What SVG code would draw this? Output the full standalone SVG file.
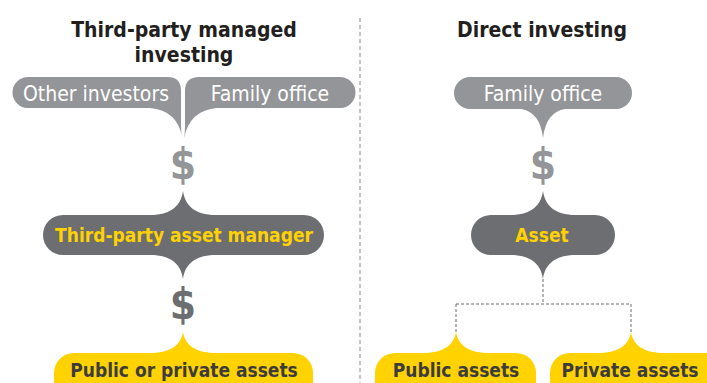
<svg xmlns="http://www.w3.org/2000/svg" width="707" height="383" viewBox="0 0 707 383">
<style>
.title{font-family:"DejaVu Sans Condensed","DejaVu Sans",sans-serif;font-weight:bold;font-size:21px;fill:#231f20;text-anchor:middle}
.lt{fill:#939598}
.dk{fill:#6d6e71}
.yl{fill:#ffd200}
.wt{font-family:"DejaVu Sans Condensed","DejaVu Sans",sans-serif;font-size:21px;fill:#ffffff;text-anchor:middle}
.yt{font-family:"DejaVu Sans Condensed","DejaVu Sans",sans-serif;font-weight:bold;font-size:19px;fill:#ffd200;text-anchor:middle}
.bt{font-family:"DejaVu Sans Condensed","DejaVu Sans",sans-serif;font-weight:bold;font-size:19px;fill:#3c3c3e;text-anchor:middle}
.dol{font-family:"DejaVu Sans Condensed","DejaVu Sans",sans-serif;font-weight:bold;font-size:42px;text-anchor:middle}
.dash{fill:none;stroke:#6d6e71;stroke-width:1;stroke-dasharray:3 2}
</style>
<rect width="707" height="383" fill="#ffffff"/>
<g id="titles">
<text class="title" x="184" y="37">Third-party managed</text>
<text class="title" x="184" y="62">investing</text>
<text class="title" x="542" y="37">Direct investing</text>
</g>
<g id="connectors">
<line x1="360" y1="18" x2="360" y2="383" stroke="#8a8a8c" stroke-width="1" stroke-dasharray="4 3"/>
<path class="dash" d="M543 279 V304 M456 304 H631 M456 304 V333 M631 304 V333"/>
</g>
<g id="other-investors">
<path class="lt" d="M28 77 H168 Q181 77 181 91 V126 Q181 133 182.5 138 Q177 110 150 108 H28 A15.5 15.5 0 0 1 28 77 Z"/>
<text class="wt" x="96" y="101">Other investors</text>
</g>
<g id="family-office-left">
<path class="lt" d="M185 91 Q185 77 199 77 H340 A15.5 15.5 0 0 1 340 108 H217 Q190 110 184 138 Q185 133 185 126 Z"/>
<text class="wt" x="270" y="101">Family office</text>
</g>
<g id="dollar-left-1"><text class="dol lt" x="183" y="179">$</text></g>
<g id="asset-manager">
<path class="dk" d="M63 215 H150 C172 215 181 205 183 191 C185 205 194 215 216 215 H304 A20 20 0 0 1 304 255 H216 C194 255 185 265 183 279 C181 265 172 255 150 255 H63 A20 20 0 0 1 63 215 Z"/>
<text class="yt" x="184" y="242">Third-party asset manager</text>
</g>
<g id="dollar-left-2"><text class="dol dk" x="183" y="319">$</text></g>
<g id="public-private">
<path class="yl" d="M74 353 H150 C172 353 181 344 183 332 C185 344 194 353 216 353 H293 A20 20 0 0 1 313 373 V393 H54 V373 A20 20 0 0 1 74 353 Z"/>
<text class="bt" x="184" y="377">Public or private assets</text>
</g>
<g id="family-office-right">
<path class="lt" d="M470 77 H616 A16 16 0 0 1 616 109 H565 Q546 112 543 138 Q540 112 521 109 H470 A16 16 0 0 1 470 77 Z"/>
<text class="wt" x="543" y="101">Family office</text>
</g>
<g id="dollar-right"><text class="dol lt" x="543" y="179">$</text></g>
<g id="asset">
<path class="dk" d="M491 215 H510 C532 215 541 205 543 191 C545 205 554 215 576 215 H595 A20 20 0 0 1 595 255 H576 C554 255 545 265 543 279 C541 265 532 255 510 255 H491 A20 20 0 0 1 491 215 Z"/>
<text class="yt" x="542" y="242">Asset</text>
</g>
<g id="public-assets">
<path class="yl" d="M395 353 H423 C445 353 454 344 456 332 C458 344 467 353 489 353 H516 A20 20 0 0 1 536 373 V393 H375 V373 A20 20 0 0 1 395 353 Z"/>
<text class="bt" x="456" y="377">Public assets</text>
</g>
<g id="private-assets">
<path class="yl" d="M570 353 H598 C620 353 629 344 631 332 C633 344 642 353 664 353 H707 V393 H550 V373 A20 20 0 0 1 570 353 Z"/>
<text class="bt" x="630" y="377">Private assets</text>
</g>
</svg>
